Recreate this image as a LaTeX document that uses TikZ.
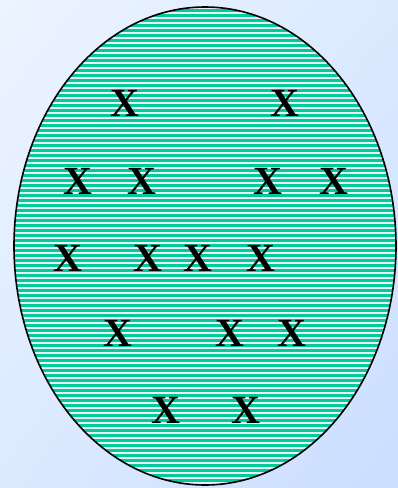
\documentclass[tikz,border=0pt]{standalone}
\usepackage{fontspec}
\setmainfont{Liberation Serif}
\usetikzlibrary{shadings}
\definecolor{teal0}{RGB}{0,204,153}
\definecolor{bgA}{RGB}{236,244,255}
\definecolor{bgB}{RGB}{202,222,255}
\definecolor{bgM}{RGB}{220,234,255}
\definecolor{stripe}{RGB}{236,236,246}
\begin{document}
\begin{tikzpicture}[x=1pt,y=-1pt,
  xmark/.style={inner sep=0pt, font=\fontsize{40}{40}\selectfont\bfseries, text=black}]
\useasboundingbox (0,0) rectangle (398,488);
\shade[upper left=bgA, lower right=bgB, upper right=bgM, lower left=bgM] (0,0) rectangle (398,488);
\fill[teal0] (205,246) ellipse [x radius=191, y radius=239];
\begin{scope}
  \clip (205,246) ellipse [x radius=191, y radius=239];
  \foreach \k in {0,...,97} {
    \draw[stripe, line width=1.2pt] (10,{8+5*\k}) -- (398,{8+5*\k});
  }
\end{scope}
\draw[black, line width=1.6pt] (205,246) ellipse [x radius=191, y radius=239];
% row 1
\node[xmark] (x11) at (125,103) {X};
\node[xmark] (x12) at (285,103) {X};
% row 2
\node[xmark] (x21) at (78,181) {X};
\node[xmark] (x22) at (142,181) {X};
\node[xmark] (x23) at (268,181) {X};
\node[xmark] (x24) at (334,181) {X};
% row 3
\node[xmark] (x31) at (68,258) {X};
\node[xmark] (x32) at (148,258) {X};
\node[xmark] (x33) at (198,258) {X};
\node[xmark] (x34) at (261,258) {X};
% row 4
\node[xmark] (x41) at (118,333) {X};
\node[xmark] (x42) at (230,333) {X};
\node[xmark] (x43) at (292,333) {X};
% row 5
\node[xmark] (x51) at (166,410) {X};
\node[xmark] (x52) at (246,410) {X};
\end{tikzpicture}
\end{document}
